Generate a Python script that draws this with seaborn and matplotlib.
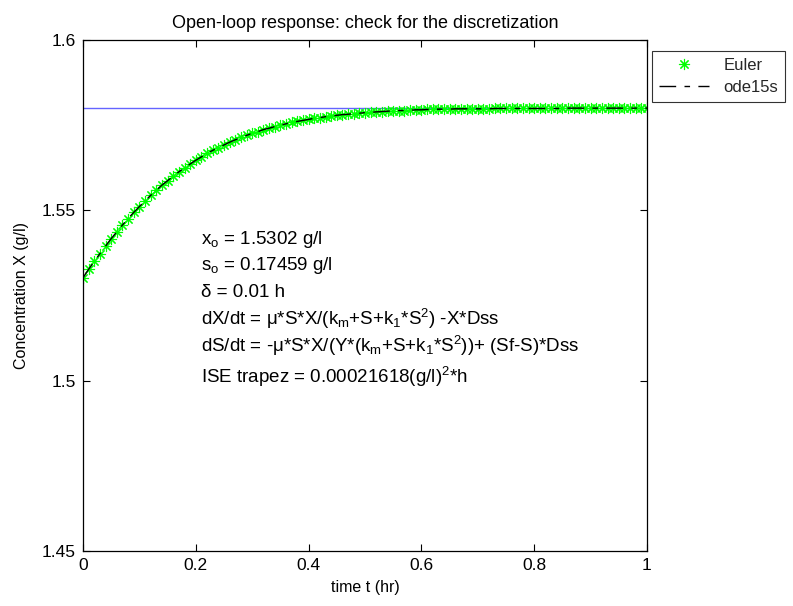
import numpy as np
import pandas as pd
import matplotlib
matplotlib.use('Agg')
import matplotlib.pyplot as plt
import seaborn as sns

# time grid (hr), step 0.01
time_hr = [round(0.01 * i, 2) for i in range(101)]

# biomass concentration (g/l)
conc_x = [
    1.5302, 1.5327, 1.5350, 1.5373, 1.5395, 1.5417, 1.5437, 1.5457, 1.5476, 1.5494,
    1.5511, 1.5528, 1.5544, 1.5559, 1.5574, 1.5587, 1.5601, 1.5613, 1.5625, 1.5636,
    1.5647, 1.5657, 1.5667, 1.5676, 1.5684, 1.5692, 1.5700, 1.5707, 1.5714, 1.5720,
    1.5726, 1.5731, 1.5737, 1.5741, 1.5746, 1.5750, 1.5754, 1.5758, 1.5761, 1.5764,
    1.5767, 1.5770, 1.5772, 1.5775, 1.5777, 1.5779, 1.5781, 1.5782, 1.5784, 1.5785,
    1.5787, 1.5788, 1.5789, 1.5790, 1.5791, 1.5792, 1.5793, 1.5793, 1.5794, 1.5795,
    1.5795, 1.5796, 1.5796, 1.5797, 1.5797, 1.5797, 1.5798, 1.5798, 1.5798, 1.5798,
    1.5798, 1.5798, 1.5798, 1.5799, 1.5799, 1.5799, 1.5799, 1.5799, 1.5799, 1.5799,
    1.5799, 1.5799, 1.5799, 1.5799, 1.5799, 1.5799, 1.5800, 1.5800, 1.5800, 1.5800,
    1.5800, 1.5800, 1.5800, 1.5800, 1.5800, 1.5800, 1.5800, 1.5800, 1.5800, 1.5800,
    1.5800,
]

# steady state reference line
ref_t = [0.0, 1.0]
ref_x = [1.58, 1.58]

df = pd.DataFrame({'t': time_hr, 'X': conc_x})
ref = pd.DataFrame({'t': ref_t, 'X': ref_x})

sns.set_theme(style='white')
plt.rcParams['font.family'] = ['Liberation Sans', 'DejaVu Sans']
plt.rcParams['mathtext.fontset'] = 'custom'
plt.rcParams['mathtext.rm'] = 'Liberation Sans'
plt.rcParams['mathtext.it'] = 'Liberation Sans:italic'

fig = plt.figure(figsize=(7.93, 6.06), dpi=100)
ax = fig.add_axes([83 / 793, 1 - 551 / 606, 564 / 793, 511 / 606])

# asterisk marker like matlab '*'
star = (8, 2, 0)

sns.lineplot(data=ref, x='t', y='X', ax=ax, color='#6464ff', linewidth=1.0, legend=False)
sns.lineplot(data=df, x='t', y='X', ax=ax, color='#00ff00', marker=star, markersize=8,
             markeredgewidth=0.8, markeredgecolor='#00ff00', linestyle='none', label='Euler')
sns.lineplot(data=df, x='t', y='X', ax=ax, color='black', linewidth=1.0,
             dashes=False, label='ode15s')
ax.lines[-1].set_dashes([12, 6, 4, 6])

ax.set_xlim(0, 1)
ax.set_ylim(1.45, 1.6)
ax.set_xticks([0, 0.2, 0.4, 0.6, 0.8, 1])
ax.set_xticklabels(['0', '0.2', '0.4', '0.6', '0.8', '1'])
ax.set_yticks([1.45, 1.5, 1.55, 1.6])
ax.set_yticklabels(['1.45', '1.5', '1.55', '1.6'])
ax.tick_params(direction='in', length=5, width=0.8, labelsize=12.5, colors='black',
               top=True, right=True, bottom=True, left=True, pad=5)
for s in ax.spines.values():
    s.set_visible(True)
    s.set_color('black')
    s.set_linewidth(0.9)

ax.set_xlabel('time t (hr)', fontsize=11.5, color='black', labelpad=5)
ax.set_ylabel('Concentration X (g/l)', fontsize=11.5, color='black', labelpad=9)
ax.set_title('Open-loop response: check for the discretization', fontsize=13, color='black', pad=9)

txt = [
    r'x$_{\mathregular{o}}$ = 1.5302 g/l',
    r's$_{\mathregular{o}}$ = 0.17459 g/l',
    'δ = 0.01 h',
    r'dX/dt = μ*S*X/(k$_{\mathregular{m}}$+S+k$_{\mathregular{1}}$*S$^{\mathregular{2}}$) -X*Dss',
    r'dS/dt = -μ*S*X/(Y*(k$_{\mathregular{m}}$+S+k$_{\mathregular{1}}$*S$^{\mathregular{2}}$))+ (Sf-S)*Dss',
    r'ISE trapez = 0.00021618(g/l)$^{\mathregular{2}}$*h',
]
ypix = [240, 265, 292, 319, 346, 377]
for s, yp in zip(txt, ypix):
    fig.text(201 / 793, 1 - yp / 606, s, fontsize=13.5, color='black', va='center', ha='left')

leg = ax.legend(loc='upper left', bbox_to_anchor=(652 / 793, 1 - 51 / 606),
                bbox_transform=fig.transFigure, frameon=True, fancybox=False,
                fontsize=12, borderaxespad=0, handlelength=3.0, edgecolor='black',
                borderpad=0.4, labelspacing=0.45, handletextpad=0.9)
leg.get_frame().set_linewidth(0.8)

fig.savefig('out.png', dpi=100, facecolor='white')
